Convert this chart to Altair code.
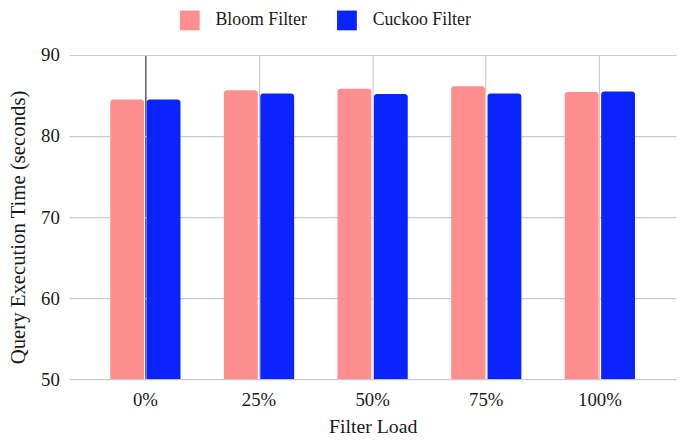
import altair as alt
import pandas as pd

loads = ["0%", "25%", "50%", "75%", "100%"]
filters = ["Bloom Filter", "Cuckoo Filter"]
bloom = [84.5, 85.65, 85.85, 86.15, 85.45]
cuckoo = [84.5, 85.25, 85.2, 85.25, 85.5]
colors = ["#FF8F8F", "#0B24FF"]
y_ticks = [50, 60, 70, 80, 90]

rows = []
for i, l in enumerate(loads):
    rows.append({"load": l, "filter": filters[0], "value": bloom[i]})
    rows.append({"load": l, "filter": filters[1], "value": cuckoo[i]})
df = pd.DataFrame(rows)

FONT = "Liberation Serif"
TXT = "#1a1a1a"

chart = alt.Chart(df).mark_bar(
    cornerRadiusTopLeft=3, cornerRadiusTopRight=3, clip=True
).encode(
    x=alt.X(
        "load:N", sort=loads,
        scale=alt.Scale(paddingInner=0.382, paddingOuter=0.361),
        axis=alt.Axis(
            title="Filter Load", labelAngle=0, labelFontSize=19, labelPadding=12,
            ticks=False, domain=False, grid=True, bandPosition=0.5,
            gridColor=alt.condition("datum.value == '0%'", alt.value("#333333"), alt.value("#cccccc")),
            gridWidth=1.2,
            titleFontSize=20, titlePadding=7, titleFontWeight="normal",
            labelFont=FONT, titleFont=FONT, labelColor=TXT, titleColor=TXT,
        ),
    ),
    xOffset=alt.XOffset("filter:N", sort=filters, scale=alt.Scale(paddingInner=0.07)),
    y=alt.Y(
        "value:Q",
        scale=alt.Scale(domain=[50, 90], zero=False, nice=False),
        axis=alt.Axis(
            title="Query Execution Time (seconds)", values=y_ticks, labelFontSize=19,
            labelPadding=10, ticks=False, domain=False, grid=True, gridColor="#cccccc",
            gridWidth=1.2,
            titleFontSize=21, titleFontWeight="normal", titleX=-51, titleY=174,
            titleAngle=270, titleAlign="center", titleBaseline="middle",
            labelFont=FONT, titleFont=FONT, labelColor=TXT, titleColor=TXT,
        ),
    ),
    y2=alt.datum(50),
    color=alt.Color(
        "filter:N", sort=filters,
        scale=alt.Scale(domain=filters, range=colors),
        legend=alt.Legend(
            title=None, orient="none", legendX=112, legendY=-45, direction="horizontal",
            symbolType="square", symbolSize=400, symbolStrokeWidth=0,
            labelFontSize=18, labelFont=FONT, labelColor=TXT, labelOffset=16,
            columnPadding=30, padding=0,
        ),
    ),
).properties(
    width=614, height=328,
    autosize=alt.AutoSizeParams(type="none"),
    padding={"left": 62, "top": 45, "right": 1, "bottom": 60},
).configure_view(stroke=None)

chart.save("out.html", embed_options={"renderer": "svg", "actions": False})
